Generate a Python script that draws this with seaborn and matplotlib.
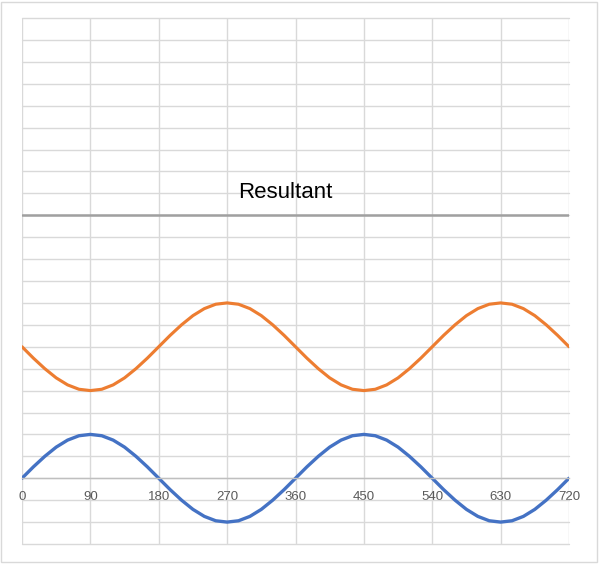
import numpy as np
import pandas as pd
import matplotlib
matplotlib.use('Agg')
import matplotlib.pyplot as plt
import seaborn as sns

# Values (degrees, every 15)
degrees = [0, 15, 30, 45, 60, 75, 90, 105, 120, 135, 150, 165, 180,
           195, 210, 225, 240, 255, 270, 285, 300, 315, 330, 345, 360,
           375, 390, 405, 420, 435, 450, 465, 480, 495, 510, 525, 540,
           555, 570, 585, 600, 615, 630, 645, 660, 675, 690, 705, 720]
blue_wave = [0, 0.26, 0.5, 0.71, 0.87, 0.97, 1, 0.97, 0.87, 0.71, 0.5, 0.26, 0,
             -0.26, -0.5, -0.71, -0.87, -0.97, -1, -0.97, -0.87, -0.71, -0.5, -0.26, 0,
             0.26, 0.5, 0.71, 0.87, 0.97, 1, 0.97, 0.87, 0.71, 0.5, 0.26, 0,
             -0.26, -0.5, -0.71, -0.87, -0.97, -1, -0.97, -0.87, -0.71, -0.5, -0.26, 0]
orange_wave = [3, 2.74, 2.5, 2.29, 2.13, 2.03, 2, 2.03, 2.13, 2.29, 2.5, 2.74, 3,
               3.26, 3.5, 3.71, 3.87, 3.97, 4, 3.97, 3.87, 3.71, 3.5, 3.26, 3,
               2.74, 2.5, 2.29, 2.13, 2.03, 2, 2.03, 2.13, 2.29, 2.5, 2.74, 3,
               3.26, 3.5, 3.71, 3.87, 3.97, 4, 3.97, 3.87, 3.71, 3.5, 3.26, 3]
resultant_x = [0, 720]
resultant_y = [6, 6]
x_ticks = [0, 90, 180, 270, 360, 450, 540, 630, 720]

sns.set_style("white")
plt.rcParams['font.family'] = ['Liberation Sans', 'DejaVu Sans']

fig = plt.figure(figsize=(6, 5.64), dpi=100)
ax = fig.add_axes([22 / 600, 1 - 544 / 564, 547 / 600, 526 / 564])

grid_col = '#d9d9d9'

sns.lineplot(x=resultant_x, y=resultant_y, ax=ax, color='#a0a0a0', linewidth=1.8)
sns.lineplot(x=degrees, y=orange_wave, ax=ax, color='#ed7d31', linewidth=2.25)
sns.lineplot(x=degrees, y=blue_wave, ax=ax, color='#4472c4', linewidth=2.4)

ax.set_xlim(0, 720)
ax.set_ylim(-1.5, 10.5)
ax.set_xticks(x_ticks)
ax.set_yticks(np.arange(-1.5, 10.51, 0.5))
ax.set_yticklabels([])
ax.tick_params(axis='x', length=0, pad=9, labelsize=9.5, labelcolor='#595959')
ax.tick_params(axis='y', length=0)

ax.grid(True, color=grid_col, linewidth=1)
for gl in ax.get_xgridlines() + ax.get_ygridlines():
    gl.set_clip_on(False)
ax.set_axisbelow(True)

for side in ['left', 'right', 'top']:
    ax.spines[side].set_visible(False)
ax.spines['bottom'].set_position(('data', 0))
ax.spines['bottom'].set_color('#bfbfbf')
ax.spines['bottom'].set_linewidth(1)

ax.text(346, 6.52, 'Resultant', fontsize=16, color='black', ha='center', va='center')

# chart border
fig.patches.append(plt.Rectangle((1 / 600, 2 / 564), 596 / 600, 560 / 564,
                                 transform=fig.transFigure, fill=False,
                                 edgecolor='#d9d9d9', linewidth=1))

fig.savefig('out.png', dpi=100)
